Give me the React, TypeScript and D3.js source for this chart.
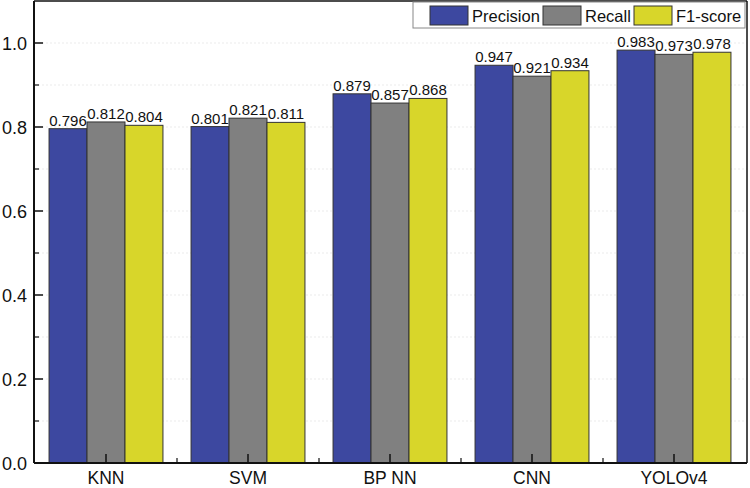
import React, { useEffect, useRef } from 'react';
import * as d3 from 'd3';

const categories = ['KNN', 'SVM', 'BP NN', 'CNN', 'YOLOv4'];
const seriesNames = ['Precision', 'Recall', 'F1-score'];
const precision = [0.796, 0.801, 0.879, 0.947, 0.983];
const recall = [0.812, 0.821, 0.857, 0.921, 0.973];
const f1score = [0.804, 0.811, 0.868, 0.934, 0.978];
const yTicks = [0, 0.2, 0.4, 0.6, 0.8, 1.0];
const yMinorTicks = [0.1, 0.3, 0.5, 0.7, 0.9];
const colors = ['#3d48a0', '#808080', '#d8d62a'];

const FONT = "'Liberation Sans', Arial, sans-serif";

function Chart() {
  const svgRef = useRef(null);

  useEffect(() => {
    const svg = d3.select(svgRef.current);
    svg.selectAll('*').remove();

    const left = 34, right = 747, top = 1, bottom = 463;
    const values = [precision, recall, f1score];

    const x = d3.scaleBand().domain(categories).range([35, 745]).paddingInner(0).paddingOuter(0);
    const inner = d3.scaleBand().domain(seriesNames).range([0, x.bandwidth()]).paddingOuter(0.37).paddingInner(0);
    const y = d3.scaleLinear().domain([0, 1.1]).range([bottom, bottom - 462]);

    // faint grid lines
    svg.append('g')
      .selectAll('line')
      .data(yTicks.concat(yMinorTicks).filter(d => d > 0))
      .join('line')
      .attr('x1', left).attr('x2', right)
      .attr('y1', d => y(d)).attr('y2', d => y(d))
      .attr('stroke', '#e6e6e6')
      .attr('stroke-width', 0.8)
      .attr('stroke-dasharray', '2,2');

    // bars
    categories.forEach((c, i) => {
      const g = svg.append('g').attr('transform', `translate(${x(c)},0)`);
      seriesNames.forEach((s, j) => {
        const v = values[j][i];
        g.append('rect')
          .attr('x', inner(s))
          .attr('y', y(v))
          .attr('width', inner.bandwidth())
          .attr('height', bottom - y(v))
          .attr('fill', colors[j])
          .attr('stroke', '#333')
          .attr('stroke-width', 1);
        g.append('text')
          .attr('x', inner(s) + inner.bandwidth() / 2)
          .attr('y', y(v) - 3)
          .attr('text-anchor', 'middle')
          .attr('font-family', FONT)
          .attr('font-size', 15)
          .attr('fill', '#111')
          .text(v.toFixed(3));
      });
    });

    // frame
    svg.append('line').attr('x1', left).attr('x2', right).attr('y1', top).attr('y2', top).attr('stroke', '#111').attr('stroke-width', 1.5);
    svg.append('line').attr('x1', right).attr('x2', right).attr('y1', top).attr('y2', bottom).attr('stroke', '#111').attr('stroke-width', 1.5);

    // y axis
    const yAxis = svg.append('g');
    yAxis.append('line').attr('x1', left).attr('x2', left).attr('y1', top).attr('y2', bottom).attr('stroke', '#111').attr('stroke-width', 2);
    yAxis.selectAll('line.major').data(yTicks).join('line').attr('class', 'major')
      .attr('x1', left).attr('x2', left + 9).attr('y1', d => y(d)).attr('y2', d => y(d))
      .attr('stroke', '#111').attr('stroke-width', 1.5);
    yAxis.selectAll('line.minor').data(yMinorTicks).join('line').attr('class', 'minor')
      .attr('x1', left).attr('x2', left + 5).attr('y1', d => y(d)).attr('y2', d => y(d))
      .attr('stroke', '#111').attr('stroke-width', 1.2);
    yAxis.selectAll('text').data(yTicks).join('text')
      .attr('x', 27).attr('y', d => y(d) + 6.5)
      .attr('text-anchor', 'end')
      .attr('font-family', FONT)
      .attr('font-size', 18)
      .attr('fill', '#111')
      .text(d => d.toFixed(1));

    // x axis
    const xAxis = svg.append('g');
    xAxis.append('line').attr('x1', left).attr('x2', right).attr('y1', bottom).attr('y2', bottom).attr('stroke', '#111').attr('stroke-width', 2);
    xAxis.selectAll('line.major').data(categories).join('line').attr('class', 'major')
      .attr('x1', d => x(d) + x.bandwidth() / 2).attr('x2', d => x(d) + x.bandwidth() / 2)
      .attr('y1', bottom).attr('y2', bottom - 9)
      .attr('stroke', '#111').attr('stroke-width', 1.5);
    xAxis.selectAll('line.minor').data(categories.slice(1)).join('line').attr('class', 'minor')
      .attr('x1', d => x(d)).attr('x2', d => x(d))
      .attr('y1', bottom).attr('y2', bottom - 5)
      .attr('stroke', '#111').attr('stroke-width', 1.2);
    xAxis.selectAll('text').data(categories).join('text')
      .attr('x', d => x(d) + x.bandwidth() / 2).attr('y', bottom + 21)
      .attr('text-anchor', 'middle')
      .attr('font-family', FONT)
      .attr('font-size', 17.5)
      .attr('fill', '#111')
      .text(d => d);

    // legend
    const lg = svg.append('g');
    lg.append('rect').attr('x', 413).attr('y', 2).attr('width', 332).attr('height', 26)
      .attr('fill', '#fff').attr('stroke', '#888').attr('stroke-width', 1);
    const lx = [430, 543, 634];
    seriesNames.forEach((s, j) => {
      lg.append('rect').attr('x', lx[j]).attr('y', 6).attr('width', 38).attr('height', 19)
        .attr('fill', colors[j]).attr('stroke', '#333').attr('stroke-width', 1);
      lg.append('text').attr('x', lx[j] + 42).attr('y', 21.5)
        .attr('font-family', FONT)
        .attr('font-size', 16.5)
        .attr('fill', '#111')
        .text(s);
    });
  }, []);

  return <svg ref={svgRef} width={750} height={488} style={{ position: 'absolute', left: 0, top: 0, background: '#fff' }} />;
}

export default function App() {
  return <Chart />;
}
